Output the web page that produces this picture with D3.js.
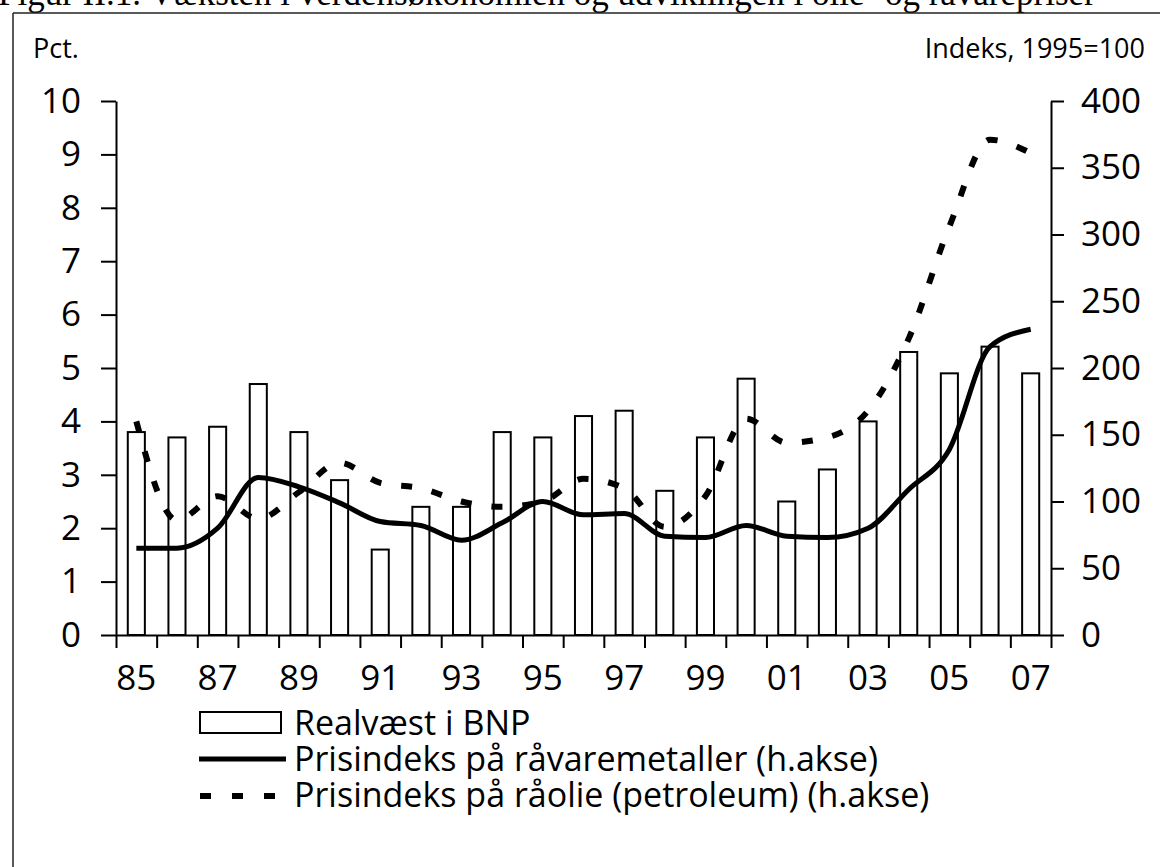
<!DOCTYPE html>
<html>
<head>
    <meta charset="utf-8">
    <style>
        body {
            margin: 0;
            background: white;
        }

        svg {
            display: block;
            font-family: 'Open Sans', 'DejaVu Sans', sans-serif;
        }

        .axis path,
        .axis line {
            stroke: black;
            stroke-width: 2;
        }

        .axis text {
            font-size: 35px;
            fill: black;
            font-family: 'Open Sans', sans-serif;
        }

        .legend text {
            font-size: 34px;
        }
    </style>
</head>

<body>
    <svg width="1160" height="867"></svg>

    <script src="https://d3js.org/d3.v7.min.js"></script>
    <script>
        // years 1985-2007, shown as two digits
        let years = ["85", "86", "87", "88", "89", "90", "91", "92", "93", "94", "95", "96",
            "97", "98", "99", "00", "01", "02", "03", "04", "05", "06", "07"];
        let yearLabels = ["85", "87", "89", "91", "93", "95", "97", "99", "01", "03", "05", "07"];

        // Realvaekst i BNP, pct. (left axis)
        let gdp = [3.8, 3.7, 3.9, 4.7, 3.8, 2.9, 1.6, 2.4, 2.4, 3.8, 3.7, 4.1,
            4.2, 2.7, 3.7, 4.8, 2.5, 3.1, 4.0, 5.3, 4.9, 5.4, 4.9];
        // prisindeks raavaremetaller, 1995=100 (right axis)
        let metals = [65, 65, 80, 118, 111, 99, 85, 82, 71, 84, 100, 90,
            91, 74, 73, 82, 74, 73, 80, 109, 139, 216, 229];
        // prisindeks raaolie, 1995=100 (right axis)
        let oil = [160, 86, 104, 87, 107, 129, 114, 110, 100, 96, 100, 117,
            110, 81, 104, 162, 144, 148, 168, 222, 306, 371, 361];

        let leftTicks = [0, 1, 2, 3, 4, 5, 6, 7, 8, 9, 10];
        let rightTicks = [0, 50, 100, 150, 200, 250, 300, 350, 400];

        let legendItems = ["Realvæst i BNP",
            "Prisindeks på råvaremetaller (h.akse)",
            "Prisindeks på råolie (petroleum) (h.akse)"];

        let svg = d3.select("svg");

        let plotLeft = 116, plotRight = 1051, plotTop = 101, plotBottom = 635;

        let x = d3.scaleBand()
            .domain(years)
            .range([plotLeft, plotRight])
            .paddingInner(0.58)
            .paddingOuter(0.29);

        let xEdge = d3.scaleLinear()
            .domain([0, years.length])
            .range([plotLeft, plotRight]);

        let yL = d3.scaleLinear().domain([0, 10]).range([plotBottom, plotTop]);
        let yR = d3.scaleLinear().domain([0, 400]).range([plotBottom, plotTop]);

        // scanned frame + cut-off title
        svg.append("text")
            .attr("x", -2)
            .attr("y", 5)
            .style("font-family", "'Liberation Serif', serif")
            .style("font-size", "35px")
            .text("Figur II.1. Væksten i verdensøkonomien og udviklingen i olie- og råvarepriser");

        svg.append("line")
            .attr("x1", 13).attr("x2", 1160)
            .attr("y1", 13).attr("y2", 13)
            .style("stroke", "#222").style("stroke-width", 1.5);
        svg.append("line")
            .attr("x1", 13).attr("x2", 13)
            .attr("y1", 13).attr("y2", 867)
            .style("stroke", "#222").style("stroke-width", 1.5);

        svg.append("text")
            .attr("x", 33).attr("y", 58)
            .style("font-size", "27px")
            .text("Pct.");
        svg.append("text")
            .attr("x", 1145).attr("y", 58)
            .attr("text-anchor", "end")
            .style("font-size", "27px")
            .text("Indeks, 1995=100");

        // bars
        svg.append("g")
            .selectAll("rect")
            .data(gdp)
            .join("rect")
            .attr("x", (d, i) => x(years[i]))
            .attr("width", x.bandwidth())
            .attr("y", d => yL(d))
            .attr("height", d => yL(0) - yL(d))
            .style("fill", "white")
            .style("stroke", "black")
            .style("stroke-width", 2);

        // axes
        svg.append("g")
            .attr("class", "axis")
            .attr("transform", "translate(" + plotLeft + ",0)")
            .call(d3.axisLeft(yL).tickValues(leftTicks).tickSize(15).tickSizeOuter(0).tickPadding(20));

        svg.append("g")
            .attr("class", "axis")
            .attr("transform", "translate(" + plotRight + ",0)")
            .call(d3.axisRight(yR).tickValues(rightTicks).tickSize(13).tickSizeOuter(0).tickPadding(17));

        svg.append("g")
            .attr("class", "axis")
            .attr("transform", "translate(0," + plotBottom + ")")
            .call(d3.axisBottom(xEdge).tickValues(d3.range(years.length + 1)).tickFormat("").tickSize(13).tickSizeOuter(0));

        let xLab = svg.append("g")
            .attr("class", "axis")
            .attr("transform", "translate(0," + plotBottom + ")")
            .call(d3.axisBottom(x).tickValues(yearLabels).tickSize(0).tickPadding(30));
        xLab.select(".domain").remove();

        // lines
        let lineR = d3.line()
            .x((d, i) => x(years[i]) + x.bandwidth() / 2)
            .y(d => yR(d))
            .curve(d3.curveMonotoneX);

        svg.append("path")
            .datum(oil)
            .attr("d", lineR)
            .style("fill", "none")
            .style("stroke", "black")
            .style("stroke-width", 6)
            .style("stroke-dasharray", "11,20");

        svg.append("path")
            .datum(metals)
            .attr("d", lineR)
            .style("fill", "none")
            .style("stroke", "black")
            .style("stroke-width", 5)
            .style("stroke-linejoin", "round");

        // legend
        let legend = svg.append("g").attr("class", "legend");

        legend.append("rect")
            .attr("x", 200).attr("y", 712)
            .attr("width", 81).attr("height", 21)
            .style("fill", "white")
            .style("stroke", "black")
            .style("stroke-width", 2);
        legend.append("line")
            .attr("x1", 199).attr("x2", 286)
            .attr("y1", 759).attr("y2", 759)
            .style("stroke", "black")
            .style("stroke-width", 5);
        legend.append("line")
            .attr("x1", 200).attr("x2", 286)
            .attr("y1", 796).attr("y2", 796)
            .style("stroke", "black")
            .style("stroke-width", 6)
            .style("stroke-dasharray", "11,21");

        legend.selectAll("text")
            .data(legendItems)
            .join("text")
            .attr("x", 294)
            .attr("y", (d, i) => 735 + i * 36)
            .text(d => d);
    </script>
</body>
</html>
